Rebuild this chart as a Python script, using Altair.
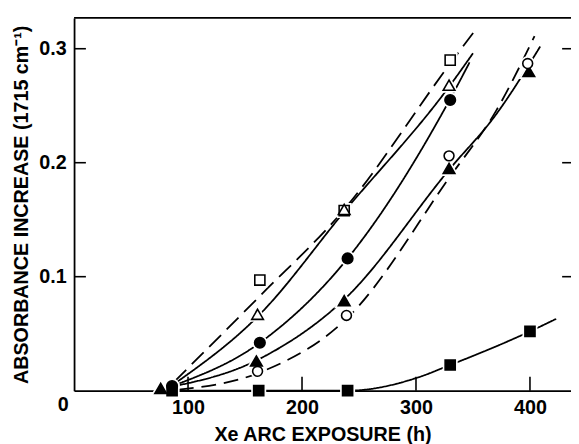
import altair as alt
import pandas as pd

# ---------------- data ----------------
x_ticks = [100, 200, 300, 400]
y_ticks = [0.1, 0.2, 0.3]
x_title = "Xe ARC EXPOSURE (h)"
y_title = "ABSORBANCE INCREASE (1715 cm\u207b\u00b9)"

# measured points
sq_open_x = [163, 237, 330]
sq_open_y = [0.097, 0.158, 0.290]
tri_open_x = [161, 237, 329]
tri_open_y = [0.067, 0.159, 0.268]
circ_fill_x = [86, 163, 240, 330]
circ_fill_y = [0.004, 0.042, 0.116, 0.255]
tri_fill_x = [76, 160, 237, 329, 399]
tri_fill_y = [0.002, 0.026, 0.079, 0.195, 0.280]
circ_open_x = [161, 239, 329, 398]
circ_open_y = [0.017, 0.066, 0.206, 0.287]
sq_fill_x = [86, 162, 240, 330, 400]
sq_fill_y = [0.0, 0.0, 0.0, 0.0225, 0.052]

# drawn (fitted) curves
sq_open_cx = [88, 163, 237, 330, 351]
sq_open_cy = [0.008, 0.083, 0.159, 0.287, 0.315]
tri_open_cx = [88, 163, 237, 330, 350]
tri_open_cy = [0.006, 0.067, 0.157, 0.268, 0.296]
circ_fill_cx = [86, 163, 240, 330, 347]
circ_fill_cy = [0.004, 0.042, 0.116, 0.256, 0.288]
tri_fill_cx = [78, 163, 237, 330, 370, 409]
tri_fill_cy = [0.002, 0.028, 0.080, 0.195, 0.242, 0.302]
circ_open_cx = [92, 163, 240, 330, 370, 404]
circ_open_cy = [0.001, 0.016, 0.064, 0.188, 0.245, 0.311]
sq_fill_cx = [86, 240, 300, 330, 400, 423]
sq_fill_cy = [0.0, 0.0, 0.011, 0.0225, 0.052, 0.063]

series = [
    ("sq_open", sq_open_x, sq_open_y, sq_open_cx, sq_open_cy),
    ("tri_open", tri_open_x, tri_open_y, tri_open_cx, tri_open_cy),
    ("circ_fill", circ_fill_x, circ_fill_y, circ_fill_cx, circ_fill_cy),
    ("tri_fill", tri_fill_x, tri_fill_y, tri_fill_cx, tri_fill_cy),
    ("circ_open", circ_open_x, circ_open_y, circ_open_cx, circ_open_cy),
    ("sq_fill", sq_fill_x, sq_fill_y, sq_fill_cx, sq_fill_cy),
]

# ---------------- styles ----------------
styles = {
    "sq_open": dict(shape="square", fill="white", size=105, dash=[17, 8]),
    "tri_open": dict(shape="triangle-up", fill="white", size=140, dash=[1, 0]),
    "circ_fill": dict(shape="circle", fill="black", size=115, dash=[1, 0]),
    "tri_fill": dict(shape="triangle-up", fill="black", size=140, dash=[1, 0]),
    "circ_open": dict(shape="circle", fill="white", size=100, dash=[15, 8]),
    "sq_fill": dict(shape="square", fill="black", size=105, dash=[1, 0]),
}

X_MAX = 436
Y_MAX = 0.327
FONT = "Liberation Sans"
WEIGHT = "bold"

xs = alt.Scale(domain=[0, X_MAX], nice=False, zero=False)
ys = alt.Scale(domain=[0, Y_MAX], nice=False, zero=False)

x_axis = alt.Axis(
    values=x_ticks, ticks=False, tickSize=0, grid=False,
    domainColor="black", domainWidth=1.8,
    labelFont=FONT, labelFontSize=20, labelFontWeight=WEIGHT, labelColor="black",
    labelPadding=7, labelFlush=False,
    title=x_title, titleFont=FONT, titleFontSize=20, titleFontWeight=WEIGHT,
    titleColor="black", titlePadding=8,
)
y_axis = alt.Axis(
    values=y_ticks, format=".1f", ticks=False, tickSize=0, grid=False,
    domainColor="black", domainWidth=1.8,
    labelFont=FONT, labelFontSize=20, labelFontWeight=WEIGHT, labelColor="black",
    labelPadding=8, labelFlush=False,
    title=y_title, titleFont=FONT, titleFontSize=20, titleFontWeight=WEIGHT,
    titleColor="black", titlePadding=7,
)


def X(field):
    return alt.X(field, scale=xs, axis=x_axis, title=x_title)


def Y(field):
    return alt.Y(field, scale=ys, axis=y_axis, title=y_title)


def XD(v):
    return alt.XDatum(v, scale=xs, axis=x_axis, title=x_title)


def YD(v):
    return alt.YDatum(v, scale=ys, axis=y_axis, title=y_title)


line_layers, halo_layers, marker_layers = [], [], []
for name, px, py, cx, cy in series:
    st = styles[name]
    cdf = pd.DataFrame({"x": cx, "y": cy, "i": list(range(len(cx)))})
    pdf = pd.DataFrame({"x": px, "y": py})
    line_layers.append(
        alt.Chart(cdf).mark_line(
            color="black", strokeWidth=1.8, interpolate="monotone",
            strokeDash=st["dash"],
        ).encode(x=X("x:Q"), y=Y("y:Q"), order="i:Q")
    )
    halo_layers.append(
        alt.Chart(pdf).mark_point(
            shape=st["shape"], size=st["size"], filled=True, fill="white",
            stroke="white", strokeWidth=5, opacity=1,
        ).encode(x=X("x:Q"), y=Y("y:Q"))
    )
    marker_layers.append(
        alt.Chart(pdf).mark_point(
            shape=st["shape"], size=st["size"], filled=True, fill=st["fill"],
            stroke="black", strokeWidth=1.6, opacity=1,
        ).encode(x=X("x:Q"), y=Y("y:Q"))
    )

xt_df = pd.DataFrame({"x": x_ticks})
yt_df = pd.DataFrame({"y": y_ticks})

bottom_ticks = alt.Chart(xt_df).mark_tick(
    orient="vertical", size=14, thickness=1.6, color="black", yOffset=-7, opacity=1
).encode(x=X("x:Q"), y=YD(0))

left_ticks = alt.Chart(yt_df).mark_tick(
    orient="horizontal", size=12, thickness=1.6, color="black", xOffset=6, opacity=1
).encode(y=Y("y:Q"), x=XD(0))

right_ticks = alt.Chart(yt_df).mark_tick(
    orient="horizontal", size=9, thickness=1.6, color="black", xOffset=-4.5, opacity=1
).encode(y=Y("y:Q"), x=XD(X_MAX))

top_frame = alt.Chart(pd.DataFrame({"y": [Y_MAX]})).mark_rule(
    color="black", strokeWidth=1.8
).encode(y=Y("y:Q"))

origin_label = alt.Chart(pd.DataFrame({"x": [0]})).mark_text(
    text="0", font=FONT, fontSize=20, fontWeight=WEIGHT, color="black",
    dx=-11, dy=21, baseline="alphabetic", align="center",
).encode(x=X("x:Q"), y=YD(0))

chart = alt.layer(
    *line_layers, *halo_layers, *marker_layers,
    bottom_ticks, left_ticks, right_ticks, top_frame, origin_label,
).properties(
    width=504, height=378,
    autosize=alt.AutoSizeParams(type="none"),
    padding={"left": 67, "top": 7, "right": 0, "bottom": 51},
    background="white",
).configure_view(stroke=None)

chart.save("out.html", embed_options={"renderer": "svg", "actions": False})
